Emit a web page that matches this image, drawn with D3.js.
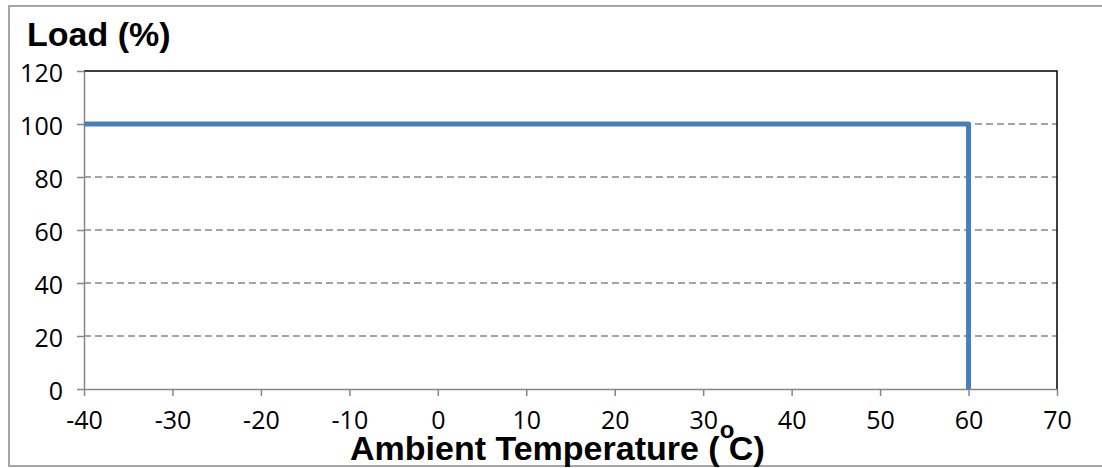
<!DOCTYPE html>
<html>
<head>
<meta charset="utf-8">
<script src="https://cdn.jsdelivr.net/npm/d3@7/dist/d3.min.js"></script>
<style>
  html, body { margin: 0; padding: 0; background: #ffffff; }
  svg { display: block; }
</style>
</head>
<body>
<svg id="chart" width="1102" height="468"></svg>
<script>
// ---- data ----
const temperatures = [-40, 60, 60];
const loads = [100, 100, 0];
const xTickValues = [-40, -30, -20, -10, 0, 10, 20, 30, 40, 50, 60, 70];
const yTickValues = [0, 20, 40, 60, 80, 100, 120];
const yTitle = "Load (%)";
const xTitleMain = "Ambient Temperature (";
const xTitleSup = "o";
const xTitleEnd = "C)";

(function () {
// ---- layout ----
const plotLeft = 84, plotRight = 1057, plotTop = 71, plotBottom = 389;
const svg = d3.select("#chart");

const x = d3.scaleLinear().domain([-40, 70]).range([plotLeft, plotRight]);
const y = d3.scaleLinear().domain([0, 120]).range([plotBottom, plotTop]);

const gray = "#868686";
const tickFont = "'Open Sans', 'Noto Sans', sans-serif";
const titleFont = "'Liberation Sans', Arial, sans-serif";
const fmt = d => String(d);

// outer chart border
svg.append("rect")
  .attr("x", 9).attr("y", 6)
  .attr("width", 1100).attr("height", 460)
  .attr("fill", "#ffffff")
  .attr("stroke", "#a6a6a6").attr("stroke-width", 2);

// gridlines (dashed) for 20..100
svg.append("g").selectAll("line")
  .data(yTickValues.filter(v => v > 0 && v < 120))
  .join("line")
  .attr("x1", plotLeft).attr("x2", plotRight)
  .attr("y1", d => y(d)).attr("y2", d => y(d))
  .attr("stroke", gray).attr("stroke-width", 1.3)
  .attr("stroke-dasharray", "7,4");

// plot area border top & right (black)
svg.append("path")
  .attr("d", `M${plotLeft},${y(120)}H${x(70)}V${y(0)}`)
  .attr("fill", "none").attr("stroke", "#000000").attr("stroke-width", 1.5);

// y axis
const yAxis = d3.axisLeft(y).tickValues(yTickValues).tickFormat(fmt)
  .tickSize(7).tickPadding(14).tickSizeOuter(0);
const gy = svg.append("g").attr("transform", `translate(${plotLeft},0)`).call(yAxis);
gy.select(".domain").attr("stroke", gray).attr("stroke-width", 1.5);
gy.selectAll(".tick line").attr("stroke", gray).attr("stroke-width", 1.5);
gy.selectAll(".tick text")
  .attr("font-family", tickFont).attr("font-size", 25)
  .attr("fill", "#000000").attr("dy", "0.42em");

// x axis
const xAxis = d3.axisBottom(x).tickValues(xTickValues).tickFormat(fmt)
  .tickSize(7).tickPadding(15.5).tickSizeOuter(0);
const gx = svg.append("g").attr("transform", `translate(0,${plotBottom})`).call(xAxis);
gx.select(".domain").attr("stroke", gray).attr("stroke-width", 1.5);
gx.selectAll(".tick line").attr("stroke", gray).attr("stroke-width", 1.5);
gx.selectAll(".tick text")
  .attr("font-family", tickFont).attr("font-size", 25)
  .attr("fill", "#000000").attr("dy", "0.71em");

// series line
const line = d3.line().x(d => x(d[0])).y(d => y(d[1]));
svg.append("path")
  .datum(temperatures.map((t, i) => [t, loads[i]]))
  .attr("d", line)
  .attr("fill", "none")
  .attr("stroke", "#4a7ebb")
  .attr("stroke-width", 5)
  .attr("stroke-linejoin", "round");

// y title
svg.append("text")
  .attr("x", 27).attr("y", 46)
  .attr("font-family", titleFont).attr("font-weight", "bold")
  .attr("font-size", 34).attr("fill", "#000000")
  .text(yTitle);

// x title
const xt = svg.append("text")
  .attr("x", 350).attr("y", 460)
  .attr("font-family", titleFont).attr("font-weight", "bold")
  .attr("font-size", 34).attr("fill", "#000000");
xt.append("tspan").text(xTitleMain);
xt.append("tspan").attr("font-size", 24).attr("dx", 0).attr("dy", -22).text(xTitleSup);
xt.append("tspan").attr("dx", -5.5).attr("dy", 22).text(xTitleEnd);
})();
</script>
</body>
</html>
